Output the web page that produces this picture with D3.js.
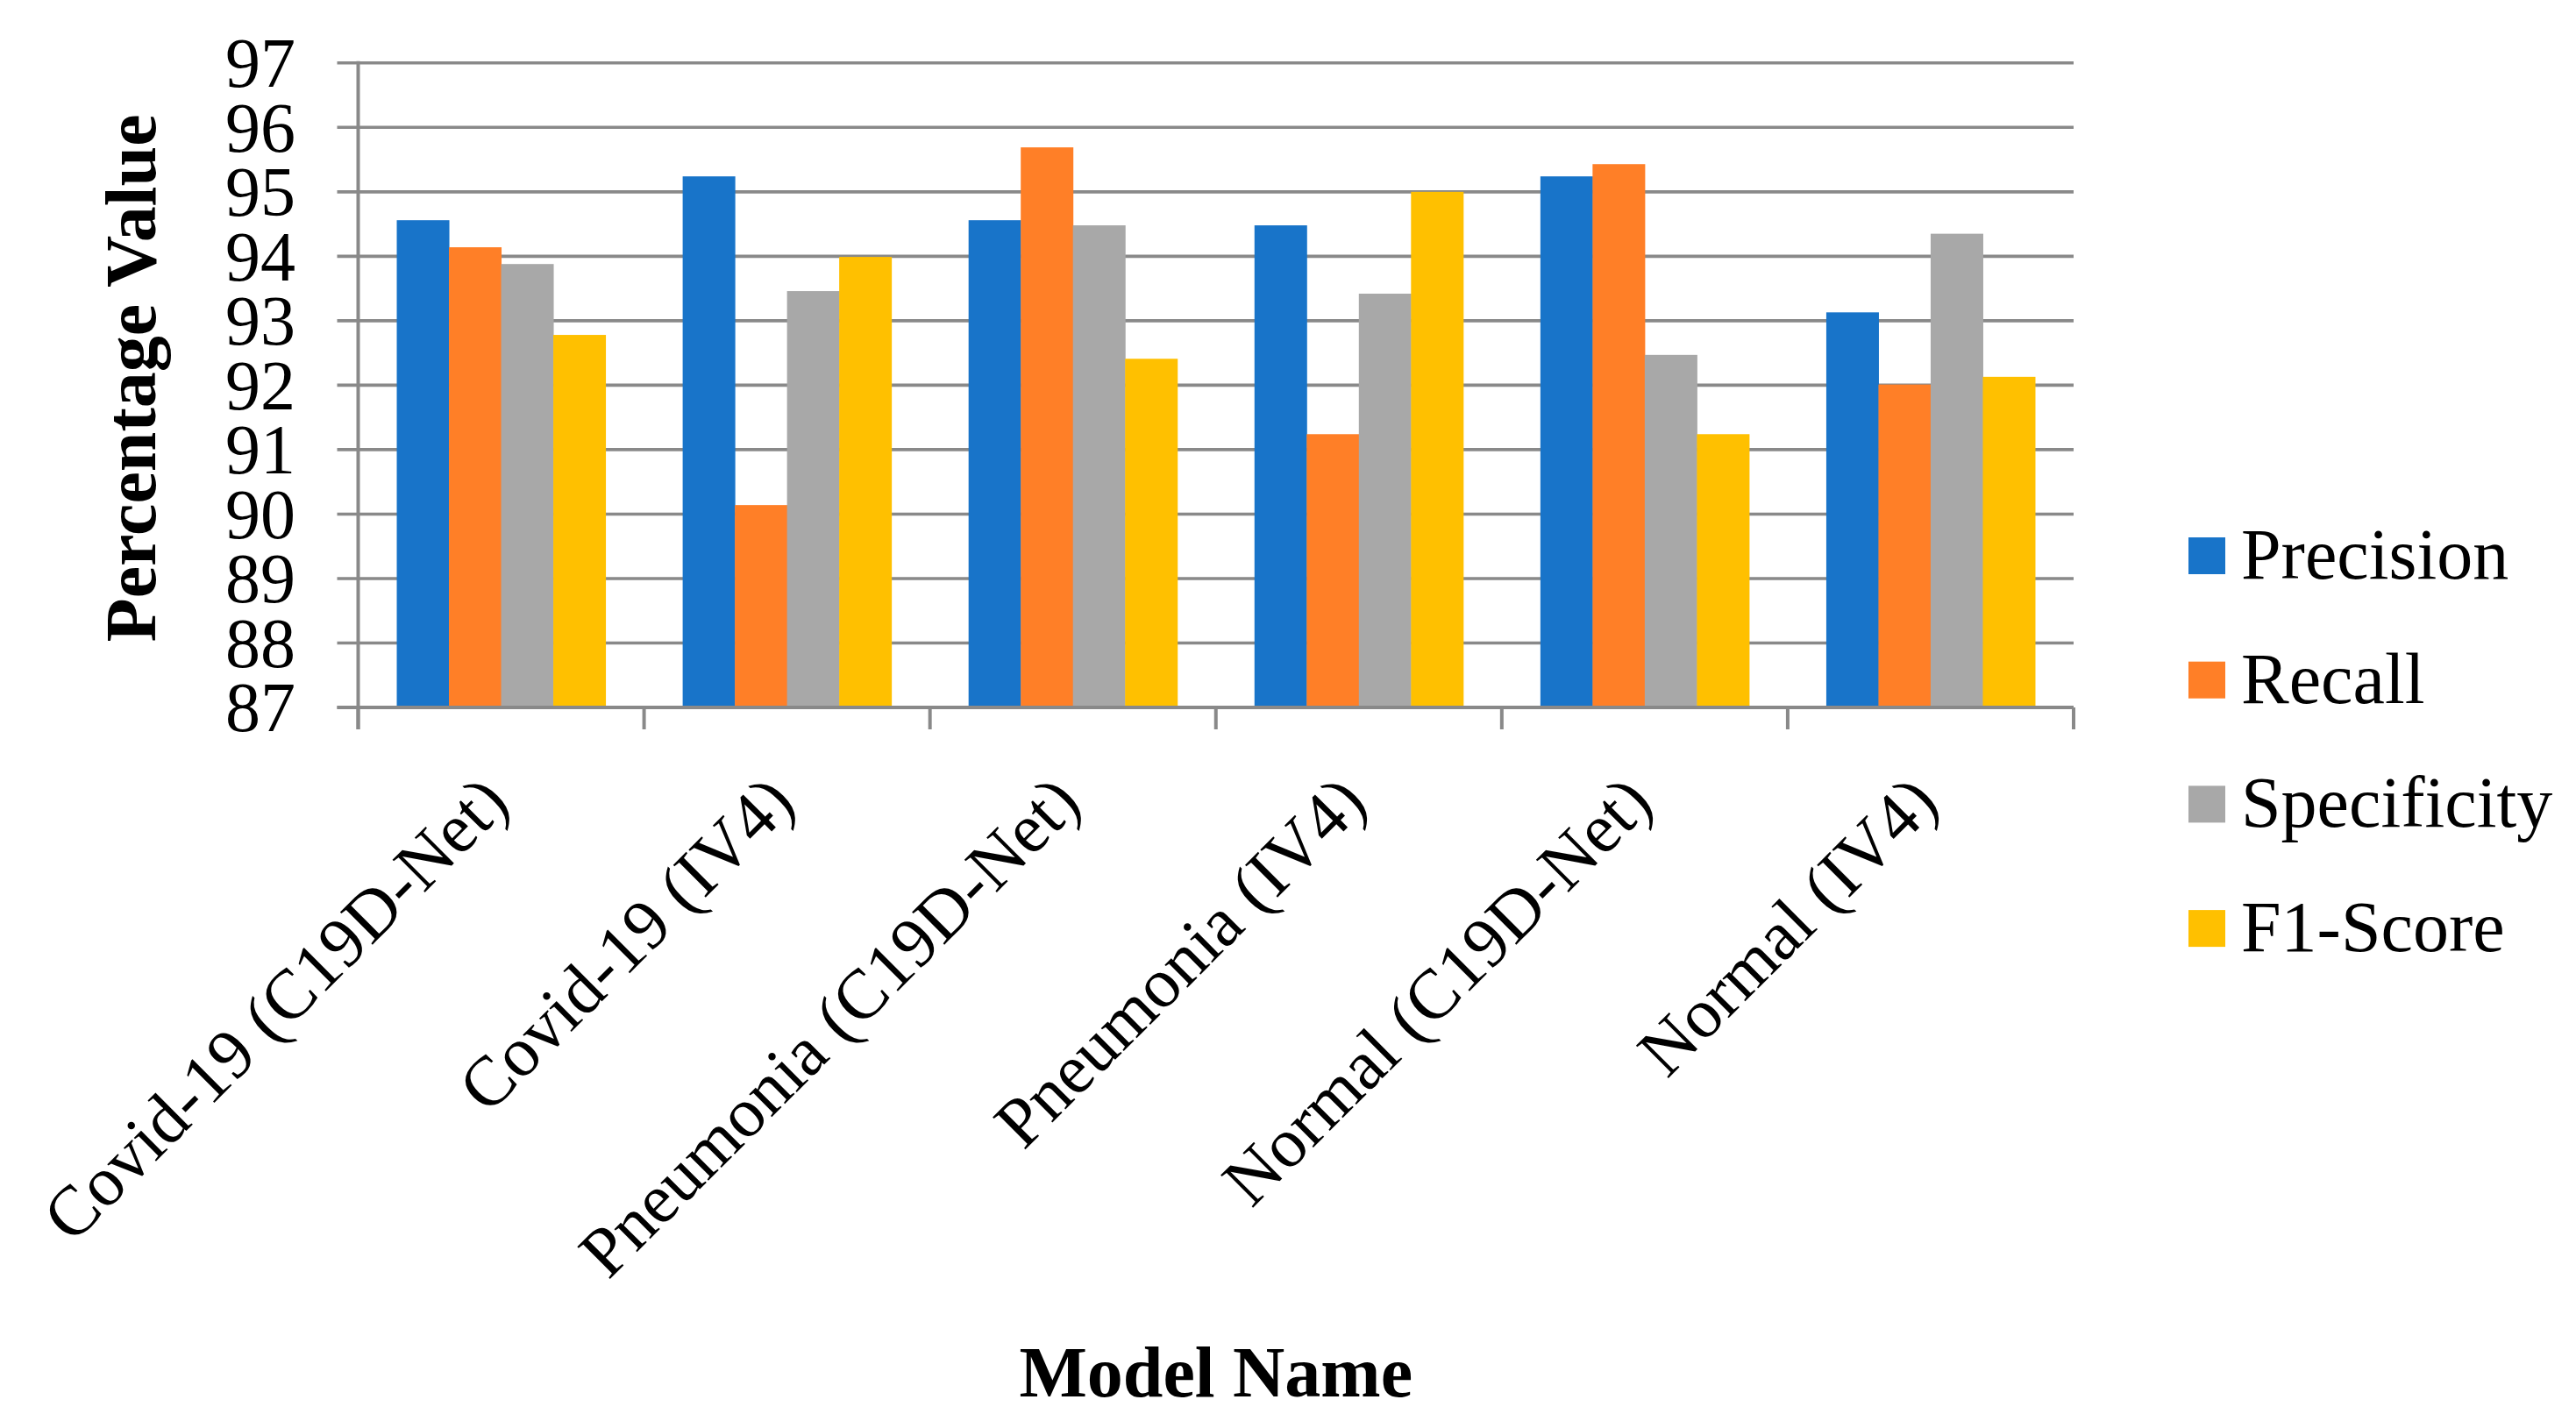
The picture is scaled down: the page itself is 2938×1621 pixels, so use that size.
<!DOCTYPE html>
<html>
<head>
<meta charset="utf-8">
<script src="https://cdn.jsdelivr.net/npm/d3@7"></script>
<style>
  html, body { margin: 0; padding: 0; background: #fff; }
  svg { display: block; }
  text { font-family: "Liberation Serif", "Times New Roman", serif; fill: #000; }
</style>
</head>
<body>
<svg id="chart" width="2938" height="1621"></svg>
<script>
const categories = ["Covid-19 (C19D-Net)", "Covid-19 (IV4)", "Pneumonia (C19D-Net)", "Pneumonia (IV4)", "Normal (C19D-Net)", "Normal (IV4)"];
const seriesNames = ["Precision", "Recall", "Specificity", "F1-Score"];
const precision   = [94.56, 95.24, 94.56, 94.48, 95.24, 93.13];
const recall      = [94.14, 90.14, 95.69, 91.24, 95.43, 92.01];
const specificity = [93.88, 93.46, 94.48, 93.42, 92.47, 94.35];
const f1Score     = [92.78, 93.99, 92.41, 95.00, 91.24, 92.13];
const yTicks = [87, 88, 89, 90, 91, 92, 93, 94, 95, 96, 97];
const colors = ["#1874C9", "#FF7F27", "#A8A8A8", "#FFC000"];

(function () {
const seriesValues = [precision, recall, specificity, f1Score];
const rows = categories.map((c, i) => ({
  cat: c,
  values: seriesNames.map((s, j) => ({ key: s, value: seriesValues[j][i] }))
}));

const svg = d3.select("#chart");
const pL = 408.5, pR = 2365, pT = 71.8, pB = 807;
const gridColor = "#898989";

const x0 = d3.scaleBand().domain(categories).range([pL, pR])
  .paddingInner(0.27).paddingOuter(0.135);
const x1 = d3.scaleBand().domain(seriesNames).range([0, x0.bandwidth()]).padding(0);
const y = d3.scaleLinear().domain([87, 97]).range([pB, pT]);
const color = d3.scaleOrdinal().domain(seriesNames).range(colors);

// gridlines (with left tick stubs)
svg.append("g").selectAll("line").data(yTicks).join("line")
  .attr("x1", pL - 24).attr("x2", pR)
  .attr("y1", d => y(d)).attr("y2", d => y(d))
  .attr("stroke", gridColor).attr("stroke-width", 3.6);

// bars
svg.append("g").selectAll("g").data(rows).join("g")
  .attr("transform", d => `translate(${x0(d.cat)},0)`)
  .selectAll("rect").data(d => d.values).join("rect")
  .attr("x", d => x1(d.key))
  .attr("width", x1.bandwidth() + 0.5)
  .attr("y", d => y(d.value))
  .attr("height", d => y(87) - y(d.value))
  .attr("fill", d => color(d.key));

// y axis line
svg.append("line")
  .attr("x1", pL).attr("x2", pL).attr("y1", pT - 2).attr("y2", pB + 25)
  .attr("stroke", gridColor).attr("stroke-width", 4);

// x axis line
svg.append("line")
  .attr("x1", pL - 24).attr("x2", pR).attr("y1", pB).attr("y2", pB)
  .attr("stroke", gridColor).attr("stroke-width", 4);

// x ticks at category boundaries
const boundaries = d3.range(categories.length + 1).map(i => pL + i * x0.step());
svg.append("g").selectAll("line").data(boundaries).join("line")
  .attr("x1", d => d).attr("x2", d => d)
  .attr("y1", pB).attr("y2", pB + 25)
  .attr("stroke", gridColor).attr("stroke-width", 4);

// y tick labels
svg.append("g").selectAll("text").data(yTicks).join("text")
  .attr("x", 337).attr("y", d => y(d)).attr("dy", "0.34em")
  .attr("text-anchor", "end")
  .style("font-size", "80px")
  .text(d => d);

// x tick labels rotated
svg.append("g").selectAll("text").data(categories).join("text")
  .attr("text-anchor", "end")
  .attr("transform", d => `translate(${x0(d) + x0.bandwidth() / 2 + 12},${pB + 112}) rotate(-45)`)
  .style("font-size", "80px")
  .text(d => d);

// axis titles
svg.append("text")
  .attr("transform", `translate(177,${(pT + pB) / 2 - 8}) rotate(-90)`)
  .attr("text-anchor", "middle")
  .style("font-size", "82px").style("font-weight", "bold")
  .text("Percentage Value");

svg.append("text")
  .attr("x", (pL + pR) / 2).attr("y", 1593)
  .attr("text-anchor", "middle")
  .style("font-size", "82px").style("font-weight", "bold")
  .text("Model Name");

// legend
const legend = svg.append("g").selectAll("g").data(seriesNames).join("g")
  .attr("transform", (d, i) => `translate(2496,${634 + i * 141.7})`);
legend.append("rect")
  .attr("x", 0).attr("y", -21).attr("width", 42).attr("height", 42)
  .attr("fill", d => color(d));
legend.append("text")
  .attr("x", 60).attr("y", 26)
  .style("font-size", "82px")
  .text(d => d);
})();
</script>
</body>
</html>
